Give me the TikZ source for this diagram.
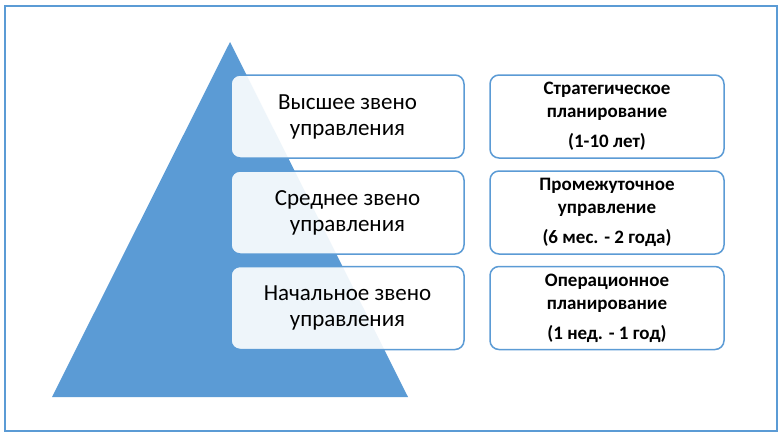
\documentclass[tikz,border=0pt]{standalone}
\usepackage{fontspec}
\setmainfont{Carlito}
\definecolor{sblue}{HTML}{5B9BD5}
\begin{document}
\begin{tikzpicture}[x=1pt,y=-1pt,
  lbox/.style={draw=sblue,line width=1.5pt,rounded corners=9pt,fill=white,fill opacity=0.9,text opacity=1,minimum width=233pt,minimum height=83pt,inner sep=0pt,align=center,font=\fontsize{23}{26}\selectfont},
  rbox/.style={draw=sblue,line width=1.5pt,rounded corners=9pt,fill=white,minimum width=234pt,minimum height=83pt,inner sep=0pt,align=center,font=\bfseries\fontsize{19}{23}\selectfont}]
\useasboundingbox (0,0) rectangle (783,437);
\fill[white] (0,0) rectangle (783,437);
\draw[sblue,line width=2pt] (5,6) rectangle (777,431);
\fill[sblue] (230,42) coordinate (apex) -- (52,397) coordinate (bl) -- (408,397) coordinate (br) -- cycle;
\node[lbox] (l1) at (347.5,116.5) {Высшее звено\\управления};
\node[lbox] (l2) at (347.5,212.5) {Среднее звено\\управления};
\node[lbox] (l3) at (347.5,308) {Начальное звено\\управления};
\node[rbox] (r1) at (607,116.5) {Стратегическое\\планирование\\[7pt](1-10 лет)};
\node[rbox] (r2) at (607,212.5) {Промежуточное\\управление\\[7pt](6 мес. - 2 года)};
\node[rbox] (r3) at (607,308) {Операционное\\планирование\\[7pt](1 нед. - 1 год)};
\end{tikzpicture}
\end{document}
